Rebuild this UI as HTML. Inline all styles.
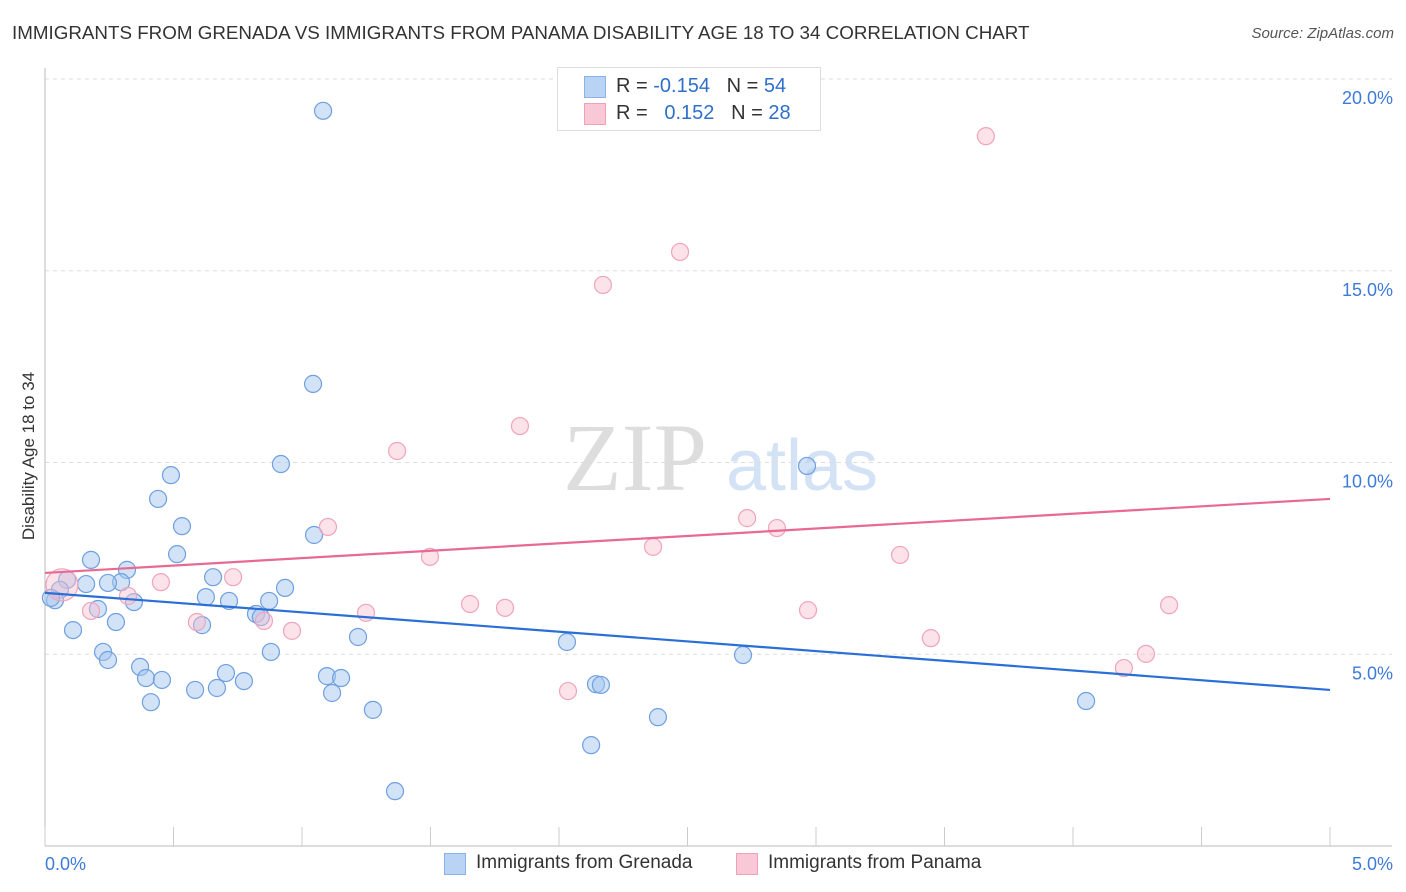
<!DOCTYPE html>
<html><head><meta charset="utf-8">
<style>
body{margin:0;background:#fff;font-family:"Liberation Sans",sans-serif;}
#wrap{position:relative;width:1406px;height:892px;overflow:hidden;}
.t{position:absolute;white-space:nowrap;}
</style></head>
<body>
<div id="wrap">
<div class="t" style="left:12px;top:22px;font-size:18.8px;color:#333;">IMMIGRANTS FROM GRENADA VS IMMIGRANTS FROM PANAMA DISABILITY AGE 18 TO 34 CORRELATION CHART</div>
<div class="t" style="right:12px;top:25px;font-size:15px;color:#555;font-style:italic;">Source: ZipAtlas.com</div>
<svg id="svg" width="1406" height="892" style="position:absolute;left:0;top:0">
<text x="635" y="490" font-family="Liberation Serif" font-size="96" fill="#ddd" text-anchor="middle">ZIP</text>
<text x="802" y="490" font-family="Liberation Sans" font-size="72" fill="#d4e2f5" text-anchor="middle">atlas</text>
<g id="grid"></g><g id="marks"></g>
<text transform="translate(34,456) rotate(-90)" font-size="17" fill="#333" text-anchor="middle">Disability Age 18 to 34</text>
</svg>
<div class="t" style="left:557px;top:67px;width:262px;height:62px;border:1px solid #ddd;background:#fff;font-size:20px;">
 <div style="position:absolute;left:26px;top:8px;width:20px;height:20px;background:#b9d3f5;border:1px solid #8ab2e6;"></div>
 <div class="t" style="left:58px;top:7px;color:#333;">R = <span style="color:#2f6fcc">-0.154</span>&nbsp;&nbsp;&nbsp;N = <span style="color:#2f6fcc">54</span></div>
 <div style="position:absolute;left:26px;top:35px;width:20px;height:20px;background:#f9c8d6;border:1px solid #f0a0b8;"></div>
 <div class="t" style="left:58px;top:34px;color:#333;">R = &nbsp;&nbsp;<span style="color:#2f6fcc">0.152</span>&nbsp;&nbsp;&nbsp;N = <span style="color:#2f6fcc">28</span></div>
</div>
<div style="position:absolute;left:444px;top:853px;width:20px;height:20px;background:#b9d3f5;border:1px solid #8ab2e6;"></div>
<div class="t" style="left:476px;top:852px;font-size:19px;color:#333;">Immigrants from Grenada</div>
<div style="position:absolute;left:736px;top:853px;width:20px;height:20px;background:#f9c8d6;border:1px solid #f0a0b8;"></div>
<div class="t" style="left:768px;top:852px;font-size:19px;color:#333;">Immigrants from Panama</div>
</div>
<script>
const yTicks=[5,10,15,20];
const yTickLabels=["5.0%","10.0%","15.0%","20.0%"];
const xTickLabels=["0.0%","5.0%"];
const blueX=[1.082,1.043,0.918,2.965,0.490,0.440,0.533,1.047,0.514,0.179,0.319,0.086,0.296,0.654,0.160,0.245,0.934,0.058,0.039,0.023,0.206,0.346,0.626,0.716,0.872,0.821,0.840,0.276,0.611,0.109,1.218,2.031,0.226,0.879,0.245,2.716,0.370,0.393,0.455,0.704,0.774,1.097,1.152,0.584,0.669,1.117,2.144,2.163,0.412,1.276,2.385,4.051,2.125,1.362];
const blueY=[19.17,12.05,9.96,9.91,9.67,9.05,8.34,8.11,7.61,7.46,7.20,6.94,6.88,7.01,6.83,6.86,6.73,6.68,6.41,6.47,6.18,6.36,6.49,6.39,6.39,6.05,5.97,5.84,5.76,5.63,5.45,5.32,5.06,5.06,4.85,4.98,4.67,4.38,4.33,4.51,4.30,4.43,4.38,4.07,4.12,3.99,4.22,4.20,3.75,3.55,3.36,3.78,2.63,1.43];
const pinkX=[3.661,2.471,2.171,1.848,1.370,1.101,2.732,2.848,2.366,1.498,3.327,0.732,0.451,0.066,0.323,1.654,1.790,1.249,2.969,4.374,0.179,0.591,0.852,0.961,3.447,4.284,4.198,2.035];
const pinkY=[18.51,15.49,14.63,10.95,10.30,8.32,8.55,8.29,7.80,7.54,7.59,7.01,6.88,6.81,6.52,6.31,6.21,6.08,6.15,6.28,6.13,5.84,5.87,5.61,5.42,5.01,4.64,4.04];
const blueTrend=[6.60,4.07];
const pinkTrend=[7.12,9.05];
const X=v=>45+v*257, Y=v=>846-v*38.35;
const NS="http://www.w3.org/2000/svg";
const grid=document.getElementById('grid'), marks=document.getElementById('marks');
function mk(tag,attrs,parent){const e=document.createElementNS(NS,tag);for(const k in attrs)e.setAttribute(k,attrs[k]);parent.appendChild(e);return e;}
yTicks.forEach((t,i)=>{
 const l=mk('line',{x1:45,x2:1392,y1:Y(t),y2:Y(t),stroke:'#ddd','stroke-dasharray':'4,4'},grid);
 
 
 const tx=mk('text',{x:1393,y:Y(t)+25,'text-anchor':'end','font-size':'18',fill:'#3d7bd9'},grid);
 tx.textContent=yTickLabels[i];
 
 
});
const ya=mk('line',{x1:45,x2:45,y1:68,y2:846,stroke:'#bbb'},grid);


const xa=mk('line',{x1:45,x2:1392,y1:846,y2:846,stroke:'#bbb'},grid);


for(let i=0;i<=10;i++){
 const tk=mk('line',{x1:X(i*0.5),x2:X(i*0.5),y1:827,y2:846,stroke:'#ccc'},grid);
 
 
}
[[0,'start',45],[5,'end',1393]].forEach((d,i)=>{
 const tx=mk('text',{x:d[2],y:870,'text-anchor':d[1],'font-size':'18',fill:'#3d7bd9'},grid);
 tx.textContent=xTickLabels[i];
 
 
});
blueX.forEach((v,i)=>{
 const c=mk('circle',{cx:X(v),cy:Y(blueY[i]),r:8.5,fill:'rgba(165,198,240,0.5)',stroke:'#6fa0e0','stroke-width':1.2},marks);
 
 
});
pinkX.forEach((v,i)=>{
 const c=mk('circle',{cx:X(v),cy:Y(pinkY[i]),r:i===13?16:8.5,fill:'rgba(248,190,206,0.45)',stroke:'#f0a4bb','stroke-width':1.2},marks);
 
 
});
const bl=mk('line',{x1:X(0),y1:Y(blueTrend[0]),x2:X(5),y2:Y(blueTrend[1]),stroke:'#2a6fd6','stroke-width':2.2},marks);


const pl=mk('line',{x1:X(0),y1:Y(pinkTrend[0]),x2:X(5),y2:Y(pinkTrend[1]),stroke:'#e86a94','stroke-width':2.2},marks);


</script>
</body></html>
